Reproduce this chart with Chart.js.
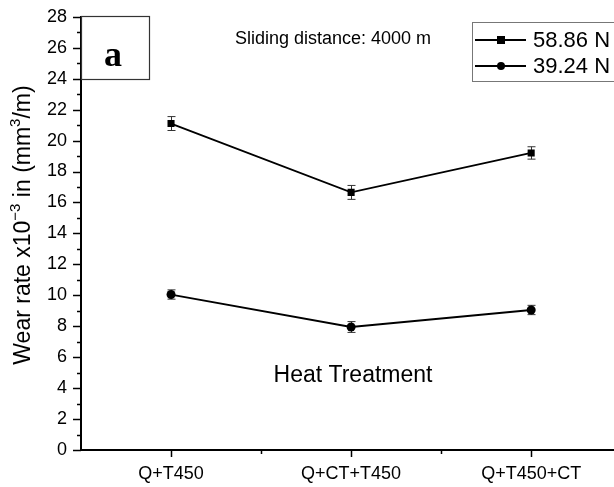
<!DOCTYPE html>
<html>
<head>
<meta charset="utf-8">
<script src="https://cdn.jsdelivr.net/npm/chart.js@4.4.1/dist/chart.umd.min.js"></script>
<style>
  html, body { margin: 0; padding: 0; background: #fff; }
  #wrap { width: 614px; height: 487px; position: relative; }
</style>
</head>
<body>
<div id="wrap"><canvas id="c" width="614" height="487"></canvas></div>
<script>
// Heat treatment routes on the x axis
const categories = ['Q+T450', 'Q+CT+T450', 'Q+T450+CT'];
// Wear rate (x10^-3 mm^3/m) at each applied load
const load5886 = [21.1, 16.65, 19.2];
const load5886Err = [0.45, 0.45, 0.4];
const load3924 = [10.05, 7.95, 9.05];
const load3924Err = [0.3, 0.35, 0.3];
const seriesLabels = ['58.86 N', '39.24 N'];
const yMajorTicks = [0, 2, 4, 6, 8, 10, 12, 14, 16, 18, 20, 22, 24, 26, 28];

const FONT = '"Liberation Sans", Arial, sans-serif';

function toPoints(vals, errs) {
  return vals.map((v, i) => ({ x: i + 1, y: v, err: errs[i] }));
}

// Vertical error bars with caps, drawn beneath the markers
const errorBars = {
  id: 'errorBars',
  beforeDatasetsDraw(chart) {
    const { ctx, scales: { x, y } } = chart;
    ctx.save();
    ctx.strokeStyle = '#333';
    ctx.lineWidth = 1;
    chart.data.datasets.forEach(ds => {
      ds.data.forEach(p => {
        const px = Math.round(x.getPixelForValue(p.x)) + 0.5;
        const top = y.getPixelForValue(p.y + p.err);
        const bot = y.getPixelForValue(p.y - p.err);
        ctx.beginPath();
        ctx.moveTo(px, top); ctx.lineTo(px, bot);
        ctx.moveTo(px - 4, top); ctx.lineTo(px + 4, top);
        ctx.moveTo(px - 4, bot); ctx.lineTo(px + 4, bot);
        ctx.stroke();
      });
    });
    ctx.restore();
  }
};

// Outward major/minor tick marks on both axes
const axisTicks = {
  id: 'axisTicks',
  afterDraw(chart) {
    const { ctx, scales: { x, y }, chartArea } = chart;
    ctx.save();
    ctx.strokeStyle = '#000';
    ctx.lineWidth = 1.5;
    const left = chartArea.left;
    const bottom = chartArea.bottom;
    for (let v = 0; v <= 28; v++) {
      const py = Math.round(y.getPixelForValue(v)) + 0.5;
      const len = v % 2 === 0 ? 8 : 4;
      ctx.beginPath();
      ctx.moveTo(left - len, py); ctx.lineTo(left, py);
      ctx.stroke();
    }
    for (let v = 1; v <= 3; v += 0.5) {
      const px = Math.round(x.getPixelForValue(v)) + 0.5;
      const len = Number.isInteger(v) ? 7 : 4;
      ctx.beginPath();
      ctx.moveTo(px, bottom); ctx.lineTo(px, bottom + len);
      ctx.stroke();
    }
    ctx.restore();
  }
};

// Y axis title with true superscripts
const yTitle = {
  id: 'yTitle',
  afterDraw(chart) {
    const { ctx } = chart;
    const parts = [
      { t: 'Wear rate x10', sup: false },
      { t: '\u22123', sup: true },
      { t: ' in (mm', sup: false },
      { t: '3', sup: true },
      { t: '/m)', sup: false }
    ];
    const main = '23px ' + FONT;
    const small = '15px ' + FONT;
    ctx.save();
    let total = 0;
    parts.forEach(p => { ctx.font = p.sup ? small : main; p.w = ctx.measureText(p.t).width; total += p.w; });
    ctx.translate(30, 225);
    ctx.rotate(-Math.PI / 2);
    ctx.fillStyle = '#000';
    ctx.textBaseline = 'alphabetic';
    ctx.textAlign = 'left';
    let cx = -total / 2;
    parts.forEach(p => {
      ctx.font = p.sup ? small : main;
      ctx.fillText(p.t, cx, p.sup ? -10 : 0);
      cx += p.w;
    });
    ctx.restore();
  }
};

// Panel tag, test note, axis note and legend
const annotations = {
  id: 'annotations',
  afterDraw(chart) {
    const { ctx, chartArea } = chart;
    ctx.save();
    // panel tag box
    ctx.strokeStyle = '#333';
    ctx.lineWidth = 1.2;
    ctx.fillStyle = '#fff';
    ctx.fillRect(chartArea.left + 1, 16, 68, 64);
    ctx.strokeRect(chartArea.left + 0.5, 16.5, 68, 63);
    ctx.fillStyle = '#000';
    ctx.font = 'bold 36px "Liberation Serif", "Times New Roman", serif';
    ctx.textAlign = 'center';
    ctx.textBaseline = 'alphabetic';
    ctx.fillText('a', chartArea.left + 32, 66);

    ctx.font = '18px ' + FONT;
    ctx.textAlign = 'center';
    ctx.textBaseline = 'middle';
    ctx.fillText('Sliding distance: 4000 m', 333, 39);

    ctx.font = '23px ' + FONT;
    ctx.fillText('Heat Treatment', 353, 376);

    // legend
    ctx.strokeStyle = '#777';
    ctx.lineWidth = 1;
    ctx.strokeRect(472.5, 22.5, 150, 59);
    const rows = [{ y: 40, style: 'rect' }, { y: 66, style: 'circle' }];
    rows.forEach((r, i) => {
      ctx.strokeStyle = '#000';
      ctx.lineWidth = 1.8;
      ctx.beginPath();
      ctx.moveTo(475, r.y); ctx.lineTo(526, r.y);
      ctx.stroke();
      ctx.fillStyle = '#000';
      if (r.style === 'rect') {
        ctx.fillRect(497, r.y - 4, 8, 8);
      } else {
        ctx.beginPath();
        ctx.arc(501, r.y, 4, 0, Math.PI * 2);
        ctx.fill();
      }
      ctx.font = '22px ' + FONT;
      ctx.textAlign = 'left';
      ctx.textBaseline = 'middle';
      ctx.fillText(seriesLabels[i], 533, r.y + 1);
    });
    ctx.restore();
  }
};

new Chart(document.getElementById('c'), {
  type: 'line',
  data: {
    datasets: [
      {
        label: seriesLabels[0],
        data: toPoints(load5886, load5886Err),
        borderColor: '#000',
        backgroundColor: '#000',
        borderWidth: 1.8,
        pointStyle: 'rect',
        pointRadius: 5,
        pointBorderWidth: 0,
        tension: 0
      },
      {
        label: seriesLabels[1],
        data: toPoints(load3924, load3924Err),
        borderColor: '#000',
        backgroundColor: '#000',
        borderWidth: 1.8,
        pointStyle: 'circle',
        pointRadius: 4.5,
        pointBorderWidth: 0,
        tension: 0
      }
    ]
  },
  options: {
    responsive: false,
    animation: false,
    layout: { autoPadding: false, padding: { top: 15, right: 0, bottom: 0, left: 0 } },
    plugins: { legend: { display: false }, tooltip: { enabled: false } },
    scales: {
      x: {
        type: 'linear',
        min: 0.5,
        max: 3.46,
        afterBuildTicks(scale) {
          scale.ticks = categories.map((c, i) => ({ value: i + 1 }));
        },
        afterFit(scale) { scale.height = 37; },
        grid: { display: false },
        border: { display: true, color: '#000', width: 2 },
        ticks: {
          color: '#000',
          font: { family: FONT, size: 18 },
          padding: 5,
          maxRotation: 0,
          autoSkip: false,
          callback: v => categories[v - 1] || ''
        }
      },
      y: {
        type: 'linear',
        min: 0,
        max: 28,
        afterBuildTicks(scale) {
          scale.ticks = yMajorTicks.map(v => ({ value: v }));
        },
        afterFit(scale) { scale.width = 81; },
        grid: { display: false },
        border: { display: true, color: '#000', width: 2 },
        ticks: {
          color: '#000',
          font: { family: FONT, size: 18 },
          padding: 6
        },
        title: { display: false }
      }
    }
  },
  plugins: [errorBars, axisTicks, yTitle, annotations]
});
</script>
</body>
</html>
